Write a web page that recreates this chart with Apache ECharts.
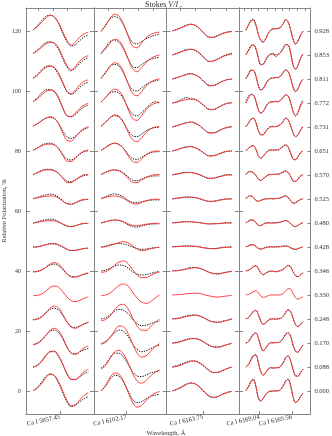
<!DOCTYPE html>
<html><head><meta charset="utf-8">
<script src="https://cdn.jsdelivr.net/npm/echarts@6/dist/echarts.min.js"></script>
<style>html,body{margin:0;padding:0;background:#fff}#c{width:332px;height:436px}</style>
</head><body><div id="c"></div>
<script>
// ---- data ----
const offsets = [120,112,104,96,88,80,72,64,56,48,40,32,24,16,8,0];
const phases = ['0.928','0.853','0.811','0.772','0.731','0.651','0.570','0.525','0.480','0.428','0.346','0.330','0.248','0.170','0.088','0.000'];
const lineLabels = ['Ca I 5857.45','Ca I 6102.17','Ca I 6163.75','Ca I 6169.04','Ca I 6169.56'];
const lineCenters = [[5857.45],[6102.17],[6163.75],[6169.04,6169.56]];
const yTicks = [0,20,40,60,80,100,120];
const topTicks = [
  [5857.3,5857.4,5857.5,5857.6],
  [6102.05,6102.15,6102.25,6102.35],
  [6163.6,6163.7,6163.8,6163.9],
  [6168.79,6168.90,6169.02,6169.16,6169.29,6169.41,6169.52,6169.65,6169.78]
];
const x1 = [5857.26,5857.29,5857.32,5857.35,5857.38,5857.41,5857.44,5857.47,5857.50,5857.53,5857.56,5857.59,5857.62,5857.65];
const x2 = [6102.00,6102.03,6102.06,6102.09,6102.12,6102.15,6102.18,6102.21,6102.24,6102.27,6102.30,6102.33,6102.36,6102.39];
const x3 = [6163.55,6163.58,6163.61,6163.64,6163.67,6163.70,6163.73,6163.76,6163.79,6163.82,6163.85,6163.88,6163.91,6163.94];
const x4 = [6168.82,6168.86,6168.90,6168.94,6168.98,6169.02,6169.06,6169.10,6169.14,6169.18,6169.22,6169.26,6169.30,6169.34,6169.38,6169.42,6169.46,6169.50,6169.54,6169.58,6169.62,6169.66,6169.70,6169.74];

const p1Mod = [
[0.4,1.4,2.8,4.3,5.2,4.8,2.8,-0.2,-3.2,-4.7,-3.6,-2.0,-1.0,-0.4],
[0.6,1.4,2.5,3.6,4.2,4.0,2.4,-0.6,-3.6,-5.0,-3.8,-2.0,-0.8,-0.2],
[0.2,1.2,2.6,3.8,4.3,3.9,2.0,-1.0,-4.2,-4.9,-3.6,-1.9,-0.8,-0.3],
[0.4,1.3,2.6,3.8,4.3,4.0,2.0,-1.6,-4.3,-4.5,-3.3,-1.8,-0.7,-0.1],
[0.3,1.0,2.0,3.0,3.4,3.0,1.2,-2.0,-4.5,-4.7,-3.3,-1.6,-0.5,0.1],
[0.3,0.9,1.7,2.2,2.3,2.0,0.8,-1.5,-3.4,-3.5,-2.3,-0.9,0.0,0.3],
[0.2,0.7,1.3,1.7,1.7,1.4,0.5,-1.1,-2.5,-2.5,-1.6,-0.6,0.1,0.2],
[0.1,0.4,0.7,0.9,1.0,0.9,0.3,-0.7,-1.6,-1.8,-1.2,-0.5,-0.1,-0.1],
[-0.1,0.2,0.5,0.7,0.8,0.7,0.3,-0.4,-1.0,-1.2,-0.9,-0.4,-0.1,-0.1],
[-0.1,0.0,0.3,0.7,1.1,1.2,0.8,0.1,-0.7,-1.2,-1.1,-0.8,-0.5,-0.4],
[-0.3,-0.2,0.3,1.2,2.3,2.8,2.3,0.8,-1.0,-2.0,-2.1,-1.6,-1.0,-0.6],
[-0.2,-0.1,0.3,1.3,2.5,3.0,2.6,1.1,-0.7,-1.9,-2.2,-1.8,-1.1,-0.6],
[-0.3,-0.1,0.6,2.0,3.6,4.3,3.7,1.6,-1.0,-2.7,-3.1,-2.5,-1.6,-0.9],
[-0.6,-0.2,0.8,2.5,4.2,4.9,4.2,1.8,-1.3,-3.4,-3.8,-2.8,-1.7,-0.9],
[-0.1,0.5,1.7,3.6,5.1,5.3,3.8,1.0,-2.2,-4.1,-4.1,-2.9,-1.6,-0.8],
[0.1,0.9,2.4,4.4,5.6,5.2,3.2,0.0,-3.2,-4.9,-4.5,-3.0,-1.5,-0.6]
];
const p1Obs = [
[0.3,1.8,3.4,4.8,5.3,4.6,2.4,-0.8,-3.6,-5.0,-4.5,-3.2,-2.0,-1.3],
[0.5,1.6,3.0,4.1,4.4,3.8,1.8,-1.2,-4.0,-5.2,-4.3,-2.8,-1.6,-0.8],
[0.3,1.5,3.0,4.2,4.4,3.6,1.5,-1.5,-4.3,-5.1,-4.2,-2.8,-1.7,-1.1],
[0.4,1.7,3.3,4.4,4.5,3.7,1.5,-1.7,-4.2,-4.6,-3.8,-2.4,-1.3,-0.7],
[0.3,1.1,2.1,2.9,3.2,2.8,1.2,-1.2,-3.3,-3.8,-3.0,-1.8,-0.8,-0.2],
[0.2,1.0,1.9,2.5,2.6,2.2,0.9,-1.1,-2.7,-3.0,-2.2,-1.1,-0.3,0.1],
[0.0,0.8,1.5,1.9,1.9,1.5,0.6,-0.9,-2.0,-2.2,-1.6,-0.8,-0.2,0.0],
[0.1,0.5,1.0,1.4,1.6,1.4,0.6,-0.6,-1.5,-1.7,-1.3,-0.7,-0.3,-0.1],
[0.0,0.4,0.8,1.1,1.3,1.1,0.5,-0.4,-1.0,-1.2,-0.9,-0.5,-0.2,-0.1],
[0.0,0.1,0.4,0.8,1.0,1.0,0.6,-0.1,-0.8,-1.2,-1.1,-0.8,-0.5,-0.4],
[-0.2,-0.1,0.4,1.2,2.0,2.3,1.8,0.5,-1.0,-1.8,-1.9,-1.5,-1.1,-0.8],
null,
[-0.2,0.1,0.8,2.0,3.2,3.6,3.0,1.2,-1.0,-2.5,-2.8,-2.3,-1.7,-1.2],
[-0.5,0.0,1.0,2.5,3.9,4.3,3.5,1.3,-1.5,-3.4,-3.6,-3.0,-2.3,-1.8],
[-0.1,0.6,2.0,3.9,5.1,5.1,3.5,0.7,-2.4,-4.2,-4.2,-3.3,-2.3,-1.6],
[0.1,1.2,2.9,4.8,5.7,5.1,2.7,-0.6,-3.7,-5.2,-4.8,-3.6,-2.6,-1.9]
];
const p2Mod = [
[-0.2,1.8,4.2,5.6,5.0,2.4,-1.6,-5.0,-5.6,-4.0,-2.3,-1.2,-0.6,-0.4],
[0.5,2.0,4.0,5.2,4.8,2.5,-1.2,-4.5,-5.6,-4.3,-2.5,-1.2,-0.4,0.0],
[0.2,2.0,4.2,5.4,4.9,2.4,-1.5,-4.8,-5.6,-4.2,-2.4,-1.1,-0.3,0.0],
[0.3,1.8,3.6,4.6,4.1,1.8,-2.0,-5.1,-5.8,-4.3,-2.3,-0.9,-0.1,0.2],
[0.2,1.5,3.1,4.0,3.6,1.6,-1.6,-4.2,-4.9,-3.6,-1.9,-0.7,0.0,0.1],
[0.2,1.1,2.1,2.6,2.2,0.8,-1.6,-3.5,-3.8,-2.7,-1.3,-0.4,0.0,0.0],
[0.2,0.9,1.5,1.7,1.4,0.5,-1.1,-2.4,-2.5,-1.7,-0.8,-0.2,0.1,0.2],
[0.1,0.5,0.9,1.0,0.8,0.2,-0.7,-1.5,-1.7,-1.2,-0.6,-0.2,-0.1,-0.1],
[0.0,0.4,0.8,1.0,0.9,0.4,-0.3,-0.8,-0.9,-0.7,-0.4,-0.2,-0.1,-0.1],
[-0.1,0.1,0.5,1.0,1.5,1.8,1.4,0.4,-0.6,-1.2,-1.0,-0.6,-0.3,-0.1],
[-0.5,-0.2,0.6,1.9,3.0,3.4,2.5,0.5,-1.3,-2.2,-2.2,-1.5,-0.8,-0.3],
[-0.2,0.0,0.6,1.9,3.2,3.7,3.0,1.0,-1.0,-2.3,-2.8,-2.3,-1.0,0.0],
[-0.6,-0.2,1.0,3.0,4.6,4.9,3.4,0.5,-2.3,-3.7,-3.8,-2.6,-1.2,-0.1],
[-0.4,0.2,1.8,4.0,5.7,5.4,3.2,-0.2,-3.3,-4.7,-4.3,-2.8,-1.2,-0.3],
[-0.7,0.5,2.8,5.0,5.6,4.3,1.5,-2.0,-4.6,-5.4,-4.6,-3.0,-1.8,-1.0],
[0.0,1.8,4.5,6.0,5.6,3.3,-0.3,-3.8,-5.4,-4.8,-3.2,-1.7,-0.7,-0.2]
];
const p2Obs = [
[0.0,1.9,4.0,4.8,4.2,2.0,-1.2,-3.8,-4.3,-3.5,-2.6,-1.9,-1.4,-1.1],
[0.5,2.5,4.5,5.0,4.2,2.0,-1.2,-3.8,-4.2,-3.2,-2.2,-1.5,-1.0,-0.8],
[0.3,2.2,4.2,4.9,4.3,2.0,-1.2,-3.6,-4.0,-3.0,-1.9,-1.1,-0.6,-0.3],
[0.3,1.8,3.3,3.8,3.3,1.4,-1.5,-3.8,-4.3,-3.2,-1.8,-0.3,0.4,0.2],
[0.2,1.6,3.1,3.8,3.3,1.4,-1.1,-2.9,-3.2,-2.4,-1.3,-0.5,-0.2,-0.1],
[0.2,1.2,2.2,2.6,2.2,0.9,-1.0,-2.5,-2.8,-2.1,-1.2,-0.6,-0.3,-0.2],
[0.1,0.8,1.4,1.7,1.5,0.7,-0.6,-1.7,-1.9,-1.4,-0.8,-0.5,-0.3,-0.3],
[0.2,0.8,1.4,1.7,1.4,0.6,-0.4,-1.1,-1.2,-0.9,-0.6,-0.4,-0.3,-0.3],
[0.0,0.4,0.8,1.0,0.8,0.3,-0.6,-1.2,-1.4,-1.0,-0.6,-0.4,-0.3,-0.3],
[0.0,0.3,0.7,1.0,1.2,1.0,0.6,0.0,-0.5,-0.8,-0.7,-0.4,-0.2,-0.1],
[0.0,0.3,0.9,1.6,2.0,1.8,1.0,-0.2,-1.0,-1.3,-1.2,-0.8,-0.4,-0.2],
null,
[0.0,0.4,1.4,2.6,3.2,2.9,1.8,0.0,-1.5,-2.2,-2.1,-1.6,-1.0,-0.7],
[-0.2,0.5,1.8,3.4,4.3,3.9,2.2,-0.2,-2.1,-2.9,-2.6,-1.9,-1.2,-0.7],
[-0.4,0.9,3.0,4.6,4.6,3.3,1.0,-1.5,-3.0,-3.2,-2.7,-2.0,-1.6,-1.3],
[0.0,1.6,3.9,5.2,4.9,3.0,0.0,-2.8,-3.9,-3.5,-2.6,-1.8,-1.4,-1.1]
];
const p3Mod = [
[0.1,0.5,1.1,1.8,2.2,1.9,0.7,-0.9,-2.0,-2.1,-1.5,-0.8,-0.4,-0.2],
[0.1,0.5,1.1,1.6,1.9,1.6,0.6,-1.0,-2.1,-2.0,-1.3,-0.5,0.0,0.2],
[0.0,0.4,1.0,1.5,1.7,1.4,0.5,-1.0,-2.1,-2.2,-1.5,-0.7,-0.2,0.0],
[0.0,0.3,0.8,1.1,1.3,1.1,0.3,-1.0,-2.1,-2.2,-1.5,-0.7,-0.1,0.1],
[0.0,0.4,0.9,1.4,1.6,1.3,0.4,-0.9,-1.9,-2.0,-1.4,-0.6,-0.1,0.1],
[0.0,0.4,0.9,1.3,1.4,1.1,0.3,-0.8,-1.6,-1.6,-1.1,-0.5,-0.1,0.0],
[0.0,0.3,0.6,0.8,0.8,0.6,0.1,-0.6,-1.1,-1.1,-0.7,-0.3,0.0,0.0],
[0.0,0.2,0.4,0.6,0.6,0.5,0.1,-0.4,-0.8,-0.8,-0.5,-0.2,0.0,0.0],
[0.0,0.1,0.3,0.4,0.4,0.3,0.1,-0.1,-0.3,-0.3,-0.2,-0.1,0.0,0.0],
[0.0,0.1,0.2,0.3,0.3,0.2,0.0,-0.3,-0.5,-0.6,-0.4,-0.2,-0.1,0.0],
[0.0,0.1,0.3,0.6,0.9,1.1,0.9,0.3,-0.4,-0.8,-0.9,-0.7,-0.4,-0.1],
[0.0,0.1,0.2,0.4,0.5,0.6,0.5,0.1,-0.3,-0.6,-0.7,-0.5,-0.3,-0.1],
[0.0,0.1,0.4,0.8,1.1,1.3,1.0,0.3,-0.5,-1.0,-1.1,-0.8,-0.4,0.0],
[-0.1,0.1,0.5,1.0,1.4,1.5,1.1,0.2,-0.7,-1.3,-1.4,-1.0,-0.5,-0.1],
[-0.1,0.2,0.7,1.4,1.9,2.0,1.4,0.2,-1.1,-1.8,-1.8,-1.2,-0.5,0.0],
[0.0,0.5,1.2,2.1,2.6,2.4,1.3,-0.3,-1.6,-2.1,-1.8,-1.1,-0.5,-0.1]
];
const p3Obs = [
[0.0,0.6,1.2,1.9,2.3,1.8,0.6,-1.0,-2.2,-2.0,-1.4,-0.8,-0.3,-0.1],
[0.0,0.6,1.2,1.8,1.9,1.5,0.4,-1.1,-2.2,-1.9,-1.2,-0.4,0.2,0.6],
[0.0,0.5,1.0,1.5,1.8,1.3,0.4,-1.1,-2.3,-2.1,-1.4,-0.7,-0.2,-0.1],
[0.0,0.4,1.2,1.8,1.4,1.2,0.2,-1.1,-2.2,-2.1,-1.4,-0.6,-0.1,0.1],
[0.0,0.5,1.0,1.4,1.7,1.2,0.3,-1.0,-2.0,-1.9,-1.3,-0.6,-0.2,0.1],
[0.0,0.4,1.0,1.4,1.5,1.0,0.2,-0.9,-1.7,-1.5,-1.0,-0.4,-0.1,0.0],
[0.1,0.4,0.7,0.9,0.8,0.5,0.0,-0.7,-1.2,-1.0,-0.6,-0.2,0.1,0.1],
[0.1,0.3,0.5,0.7,0.6,0.4,0.0,-0.5,-0.8,-0.7,-0.4,-0.1,0.0,0.1],
[0.1,0.2,0.4,0.5,0.4,0.2,0.1,-0.2,-0.3,-0.2,-0.2,0.0,0.1,0.0],
[0.1,0.2,0.3,0.4,0.3,0.2,0.0,-0.3,-0.5,-0.5,-0.4,-0.1,0.0,0.0],
[0.1,0.1,0.4,0.7,1.2,1.2,0.8,0.2,-0.5,-0.9,-1.0,-0.6,-0.3,-0.1],
null,
[0.1,0.2,0.6,1.0,1.3,1.3,0.9,0.2,-0.6,-1.0,-1.1,-0.7,-0.4,0.0],
[0.0,0.3,0.7,1.2,1.5,1.4,1.0,0.1,-0.8,-1.3,-1.3,-1.0,-0.5,-0.1],
[0.1,0.5,1.0,1.6,2.0,1.9,1.2,0.0,-1.2,-1.9,-1.7,-1.1,-0.5,0.0],
[0.1,0.6,1.5,2.3,2.7,2.3,1.1,-0.5,-1.8,-2.2,-1.8,-1.0,-0.4,-0.1]
];
const p4Mod = [
[0.3,1.8,3.2,3.7,2.0,-1.0,-3.0,-3.6,-2.6,-0.8,0.2,0.6,0.8,0.8,1.2,2.4,3.7,3.0,0.5,-2.6,-4.3,-3.4,-1.4,-0.2],
[0.0,1.4,2.8,3.3,2.2,-0.8,-3.2,-3.1,-1.8,-0.4,0.2,0.3,0.1,0.2,0.8,2.0,3.4,3.4,1.0,-3.2,-4.7,-3.5,-1.2,0.2],
[0.0,1.5,2.8,2.9,1.2,-2.0,-3.6,-3.2,-1.8,-0.5,0.1,0.3,0.4,0.5,1.0,2.0,3.0,2.6,0.4,-2.6,-4.2,-3.3,-1.3,-0.1],
[0.0,1.6,2.8,2.6,0.8,-2.1,-3.4,-2.8,-1.4,-0.2,0.3,0.4,0.4,0.5,0.9,1.8,2.7,2.4,0.3,-2.7,-4.3,-3.2,-1.0,0.3],
[0.0,1.2,2.5,2.9,1.6,-1.0,-2.5,-2.6,-1.6,-0.5,0.0,0.1,0.2,0.3,0.8,1.8,2.9,2.5,0.5,-1.9,-3.2,-2.6,-1.1,0.1],
[0.0,0.8,1.5,1.7,0.7,-1.5,-2.4,-1.8,-0.8,0.0,0.3,0.3,0.3,0.4,0.8,1.5,2.0,1.4,-0.6,-2.6,-2.9,-1.9,-0.6,0.0],
[0.1,0.9,1.1,0.8,0.0,-1.2,-1.8,-1.3,-0.6,0.0,0.1,0.2,0.2,0.3,0.5,0.9,1.3,0.9,-0.4,-1.9,-2.2,-1.4,-0.4,0.0],
[0.1,0.8,1.0,0.6,-0.4,-0.7,-0.5,-0.2,0.0,0.1,0.1,0.1,0.1,0.2,0.4,0.7,1.0,0.6,-0.5,-1.3,-1.3,-0.7,-0.2,0.0],
[0.0,0.5,0.9,0.9,0.2,-0.7,-0.8,-0.4,-0.1,0.0,0.0,0.0,0.1,0.1,0.3,0.6,0.8,0.6,-0.1,-0.9,-1.2,-0.8,-0.3,0.0],
[0.0,0.3,0.6,0.7,0.3,-0.4,-0.7,-0.5,-0.2,0.0,0.0,0.0,0.0,0.0,0.1,0.2,0.3,0.2,-0.2,-0.6,-0.8,-0.6,-0.2,0.0],
[0.0,0.2,0.7,1.4,1.7,0.9,-0.6,-1.2,-0.8,-0.3,-0.1,-0.1,-0.2,-0.1,0.1,0.5,1.2,1.8,1.5,-0.2,-1.5,-1.9,-1.3,-0.7],
[0.0,0.2,0.6,1.1,1.4,0.8,-0.3,-0.8,-0.6,-0.2,0.0,0.0,0.0,0.0,0.1,0.5,1.3,2.1,2.0,0.5,-0.9,-1.4,-1.0,-0.5],
[0.0,0.4,1.3,2.4,2.8,1.6,-0.6,-1.7,-1.3,-0.5,-0.1,0.0,0.0,0.0,0.2,0.9,2.1,3.0,2.6,0.4,-1.8,-2.6,-1.9,-0.9],
[-0.1,0.4,1.5,2.8,3.3,1.8,-1.0,-2.6,-1.8,-0.6,0.0,0.1,0.1,0.2,0.5,1.4,2.8,3.4,2.4,-0.6,-2.7,-3.1,-1.9,-0.7],
[-0.1,0.7,2.2,3.6,3.9,1.6,-1.5,-2.7,-1.9,-0.7,-0.3,-0.3,-0.3,-0.2,0.2,1.3,3.0,3.7,2.3,-0.8,-2.9,-3.1,-1.9,-0.8],
[0.1,1.3,2.9,3.7,1.8,-2.2,-3.3,-2.5,-1.2,-0.4,-0.1,0.0,0.0,0.1,0.5,1.6,3.2,3.9,2.0,-1.8,-3.8,-3.3,-1.9,-0.8]
];
const p4Obs = [
[0.2,2.0,3.6,3.9,2.2,-1.0,-3.2,-3.7,-2.5,-0.7,0.4,0.9,0.7,0.9,1.3,2.5,3.8,3.1,0.4,-2.8,-4.4,-3.3,-1.3,-0.1],
[0.1,1.6,3.1,3.5,2.0,-1.0,-3.3,-3.0,-1.6,-0.2,0.4,0.6,-0.6,0.1,1.0,2.2,3.6,3.3,0.8,-3.4,-4.8,-3.4,-1.0,0.4],
[0.1,1.6,3.0,2.9,1.0,-2.2,-3.7,-3.1,-1.6,-0.3,0.3,0.4,0.6,0.4,1.1,2.2,3.1,2.5,0.2,-2.8,-4.2,-3.2,-1.2,0.0],
[0.1,2.2,2.9,2.7,0.6,-2.3,-3.3,-2.7,-1.2,0.0,0.5,0.4,0.6,0.4,1.0,1.9,2.8,2.3,0.2,-2.9,-4.3,-3.0,-0.6,1.0],
[0.1,1.3,2.6,3.0,1.5,-1.2,-2.6,-2.5,-1.4,-0.4,0.2,0.2,0.1,0.4,0.9,1.9,3.0,2.4,0.4,-2.0,-3.2,-2.5,-1.0,0.2],
[0.1,0.9,1.6,1.8,0.6,-1.6,-2.4,-1.7,-0.7,0.2,0.4,0.3,0.4,0.3,0.9,1.6,2.1,1.3,-0.7,-2.7,-2.9,-1.8,-0.5,0.1],
[0.2,1.1,1.2,0.7,-0.2,-1.3,-1.9,-1.2,-0.5,0.1,0.2,0.2,0.3,0.2,0.6,1.0,1.4,0.8,-0.5,-2.0,-2.1,-1.3,-0.3,0.1],
[0.2,0.9,1.1,0.5,-0.5,-0.8,-0.4,-0.1,0.1,0.1,0.2,0.0,0.2,0.2,0.4,0.8,1.1,0.5,-0.6,-1.4,-1.2,-0.6,-0.1,0.1],
[0.1,0.6,1.1,1.0,0.1,-0.8,-0.9,-0.3,0.0,0.1,0.0,0.1,0.0,0.2,0.3,0.6,0.9,0.5,-0.2,-1.0,-1.2,-0.7,-0.2,0.1],
[0.1,0.4,0.8,0.8,0.2,-0.5,-0.7,-0.4,-0.1,0.0,0.1,0.0,0.1,0.1,0.2,0.3,0.4,0.2,-0.3,-0.7,-0.8,-0.5,-0.2,0.0],
[0.1,0.3,0.8,1.5,1.8,0.8,-0.7,-1.3,-0.7,-0.2,0.0,-0.1,-0.3,-0.1,0.2,0.6,1.3,1.9,1.4,-0.3,-1.6,-1.9,-1.2,-0.6],
null,
[0.1,0.5,1.5,2.6,2.9,1.5,-0.8,-1.8,-1.2,-0.4,0.1,0.0,-0.1,0.1,0.3,1.0,2.2,3.1,2.5,0.2,-1.9,-2.5,-1.7,-0.8],
[0.0,0.6,1.8,3.0,3.4,1.6,-1.3,-2.6,-1.6,-0.4,0.1,0.0,0.2,0.1,0.6,1.6,3.0,3.4,2.2,-0.8,-2.8,-3.0,-1.8,-0.6],
[0.0,0.9,2.5,3.9,4.1,1.5,-1.7,-2.7,-1.8,-0.6,-0.2,-0.4,-0.2,-0.3,0.3,1.4,3.1,3.7,2.1,-1.0,-3.0,-3.0,-1.8,-0.7],
[0.2,1.5,3.2,4.0,1.6,-2.4,-3.4,-2.4,-1.1,-0.3,0.0,-0.1,0.1,0.0,0.6,1.7,3.4,4.0,1.8,-2.0,-3.9,-3.2,-1.8,-0.7]
];

// ---- layout ----
const panels = [
  {xs:x1, mod:p1Mod, obs:p1Obs},
  {xs:x2, mod:p2Mod, obs:p2Obs},
  {xs:x3, mod:p3Mod, obs:p3Obs},
  {xs:x4, mod:p4Mod, obs:p4Obs}
];
const gridLeft = [21, 94, 166.5, 239];
const gridWidth = [73, 72.5, 72.5, 73];
const xRange = [[5857.2099,5857.6902],[6101.9533,6102.4367],[6163.5114,6163.9853],[6168.709,6169.859]];
const FONT = 'Liberation Serif';
const FRAME = '#858585';
const TXT = '#333';
const YMIN = -7.67, YMAX = 127.67;

const allCenters = [].concat(...lineCenters);
function centerLabel(v){
  for (let i=0;i<allCenters.length;i++) if (Math.abs(allCenters[i]-v)<1e-6) return lineLabels[i];
  return '';
}
function phaseLabel(v){
  const i = offsets.indexOf(Math.round(v));
  return i>=0 ? phases[i] : '';
}

const grid=[], xAxis=[], yAxis=[], series=[];
panels.forEach((p,i)=>{
  grid.push({left:gridLeft[i], width:gridWidth[i], top:8, bottom:22, containLabel:false});
  const axLine = {show:true, onZero:false, lineStyle:{color:FRAME, width:1}};
  const dataX = xAxis.length;
  // one bottom axis per line centre, so that no label is dropped as overlapping
  lineCenters[i].forEach((c,ci)=>{
    xAxis.push({gridIndex:i, type:'value', position:'bottom', min:xRange[i][0], max:xRange[i][1],
      axisLine:Object.assign({}, axLine, {show:ci===0}), splitLine:{show:false},
      axisTick:{show:true, inside:true, length:3, customValues:[c], lineStyle:{color:FRAME}},
      axisLabel:{show:true, customValues:[c], rotate:12, margin:3, hideOverlap:false,
        fontSize:6.5, fontFamily:FONT, color:TXT, formatter:centerLabel}
    });
  });
  xAxis.push({gridIndex:i, type:'value', position:'top', min:xRange[i][0], max:xRange[i][1],
    axisLine:axLine, splitLine:{show:false},
    axisTick:{show:true, inside:true, length:3, customValues:topTicks[i], lineStyle:{color:FRAME}},
    axisLabel:{show:false}
  });
  const dataY = yAxis.length;
  yAxis.push(Object.assign({gridIndex:i, type:'value', position:'left', min:YMIN, max:YMAX,
    axisLine:axLine, splitLine:{show:false},
    axisTick:{show:true, inside:true, length:4, customValues:yTicks, lineStyle:{color:FRAME}},
    axisLabel:{show:i===0, customValues:yTicks, margin:5, fontSize:6, fontFamily:FONT, color:TXT}
  }, i===0 ? {name:'Relative Polarization, %', nameLocation:'middle', nameRotate:90, nameGap:15,
    nameTextStyle:{fontSize:6.5, fontFamily:FONT, color:TXT}} : {}));
  if (i<3) {
    yAxis.push({gridIndex:i, type:'value', position:'right', min:YMIN, max:YMAX,
      axisLine:axLine, splitLine:{show:false},
      axisTick:{show:true, inside:true, length:4, customValues:yTicks, lineStyle:{color:FRAME}},
      axisLabel:{show:false}});
  } else {
    yAxis.push({gridIndex:i, type:'value', position:'right', min:YMIN, max:YMAX,
      axisLine:axLine, splitLine:{show:false},
      axisTick:{show:true, inside:true, length:3, customValues:offsets, lineStyle:{color:FRAME}},
      axisLabel:{show:true, customValues:offsets, margin:4, fontSize:6.5, fontFamily:FONT, color:TXT,
        formatter:phaseLabel}});
  }
  offsets.forEach((off,j)=>{
    if (p.obs[j]) series.push({type:'line', xAxisIndex:dataX, yAxisIndex:dataY, showSymbol:false, symbol:'none',
      smooth:0.35, silent:true, z:2,
      lineStyle:{color:'#1a1a1a', width:1, type:[1.4,1.1]},
      data:p.xs.map((x,k)=>[x, p.obs[j][k]+off])});
    series.push({type:'line', xAxisIndex:dataX, yAxisIndex:dataY, showSymbol:false, symbol:'none',
      smooth:0.35, silent:true, z:3,
      lineStyle:{color:'#ff2b2b', width:0.9},
      data:p.xs.map((x,k)=>[x, p.mod[j][k]+off])});
  });
});

const chart = echarts.init(document.getElementById('c'), null, {renderer:'canvas'});
chart.setOption({
  animation:false,
  backgroundColor:'#fff',
  graphic:[
    {type:'text', x:145, y:5, style:{text:'Stokes {i|V/I}', align:'left', verticalAlign:'middle',
      font:'8px "Liberation Serif"', fill:TXT,
      rich:{i:{fontSize:8, fontFamily:FONT, fontStyle:'italic', fill:TXT}}}},
    {type:'text', x:179.5, y:7.5, style:{text:'c', align:'left', verticalAlign:'middle',
      font:'italic 5.5px "Liberation Serif"', fill:TXT}},
    {type:'text', x:166, y:433, style:{text:'Wavelength, Å', align:'center', verticalAlign:'middle',
      font:'6.5px "Liberation Serif"', fill:TXT}}
  ],
  grid, xAxis, yAxis, series
});
</script></body></html>
